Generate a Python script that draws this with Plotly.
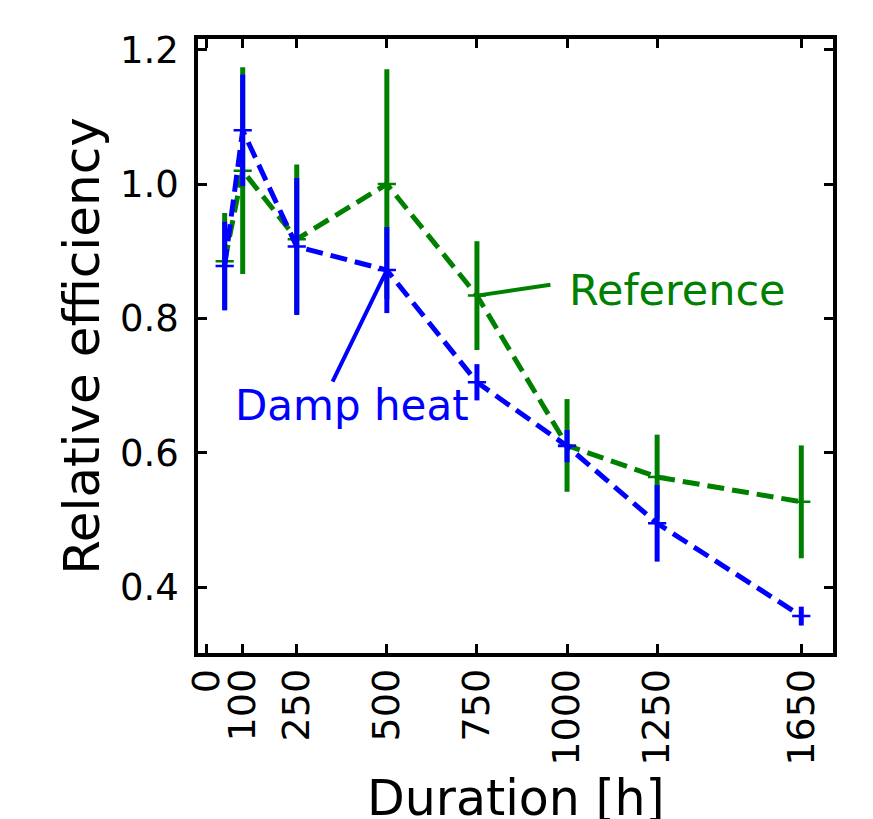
import plotly.graph_objects as go

hours = [50, 100, 250, 500, 750, 1000, 1250, 1650]
tick_vals = [0, 100, 250, 500, 750, 1000, 1250, 1650]
tick_text = ["0", "100", "250", "500", "750", "1000", "1250", "1650"]

ref_eff = [0.885, 1.02, 0.918, 1.0, 0.834, 0.611, 0.564, 0.527]
ref_err = [0.072, 0.154, 0.111, 0.171, 0.081, 0.069, 0.063, 0.084]

dh_eff = [0.878, 1.08, 0.907, 0.872, 0.705, 0.610, 0.495, 0.357]
dh_err = [0.066, 0.083, 0.102, 0.064, 0.027, 0.024, 0.057, 0.014]

GREEN = "#008000"
BLUE = "#0000FF"
FONT = "DejaVu Sans"

fig = go.Figure()
for name, y, e, c in [("Reference", ref_eff, ref_err, GREEN),
                      ("Damp heat", dh_eff, dh_err, BLUE)]:
    fig.add_trace(go.Scatter(
        x=hours, y=y, name=name, mode="lines+markers",
        line=dict(color=c, width=5, dash="17px,8px"),
        marker=dict(symbol="cross-thin", size=13, color=c,
                    line=dict(color=c, width=2.5)),
        error_y=dict(type="data", array=e, visible=True, color=c,
                     thickness=5, width=0),
        showlegend=False,
    ))

# labels with leader lines
fig.add_annotation(x=1306, y=0.842, text="Reference", showarrow=False,
                   font=dict(family=FONT, size=43, color=GREEN))
fig.add_annotation(x=hours[4], y=ref_eff[4], text="", showarrow=True,
                   ax=75, ay=-11, axref="pixel", ayref="pixel",
                   arrowhead=0, arrowwidth=4, arrowcolor=GREEN)
fig.add_annotation(x=403, y=0.671, text="Damp heat", showarrow=False,
                   font=dict(family=FONT, size=42, color=BLUE))
fig.add_annotation(x=hours[3], y=dh_eff[3], text="", showarrow=True,
                   ax=-55, ay=113, axref="pixel", ayref="pixel",
                   arrowhead=0, arrowwidth=4, arrowcolor=BLUE)

# x-axis title (placed below tick labels; reference crops it at the bottom edge)
fig.add_annotation(xref="paper", yref="paper", x=0.5, y=-0.187,
                   xanchor="center", yanchor="top", showarrow=False,
                   text="Duration [h]",
                   font=dict(family=FONT, size=49, color="black"))

axis_common = dict(
    showline=True, linecolor="black", linewidth=3.5, mirror="allticks",
    ticks="inside", ticklen=9, tickwidth=2.5, tickcolor="black",
    showgrid=False, zeroline=False, automargin=False,
)

fig.update_xaxes(**axis_common, range=[-24, 1738], tickmode="array",
                 tickvals=tick_vals, ticktext=tick_text, tickangle=-90,
                 ticklabelstandoff=-3,
                 tickfont=dict(family=FONT, size=38, color="black"))
fig.update_yaxes(**axis_common, range=[0.302, 1.216], tickmode="array",
                 tickvals=[0.4, 0.6, 0.8, 1.0, 1.2],
                 ticktext=["0.4", "0.6", "0.8", "1.0", "1.2"],
                 ticklabelstandoff=8,
                 tickfont=dict(family=FONT, size=37, color="black"),
                 title=dict(text="Relative efficiency", standoff=6,
                            font=dict(family=FONT, size=50, color="black")))

fig.update_layout(
    width=873, height=819,
    margin=dict(l=198, r=40, t=39, b=166),
    paper_bgcolor="white", plot_bgcolor="white",
    font=dict(family=FONT),
)

fig.write_html("out.html", config={"displayModeBar": False},
               post_script="document.body.style.margin='0';"
                           "document.body.style.overflow='hidden';")
